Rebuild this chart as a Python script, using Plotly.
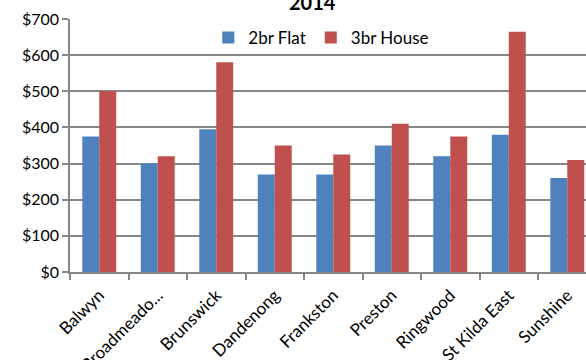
import plotly.graph_objects as go

suburbs = ["Balwyn", "Broadmeado...", "Brunswick", "Dandenong", "Frankston",
           "Preston", "Ringwood", "St Kilda East", "Sunshine"]
flat_2br = [375, 300, 395, 270, 270, 350, 320, 380, 260]
house_3br = [500, 320, 580, 350, 325, 410, 375, 665, 310]
y_ticks = [0, 100, 200, 300, 400, 500, 600, 700]
y_labels = ["$0", "$100", "$200", "$300", "$400", "$500", "$600", "$700"]

FONT = "Lato"
GRID = "#878787"

fig = go.Figure()
fig.add_trace(go.Bar(x=suburbs, y=flat_2br, name="2br Flat",
                     marker=dict(color="#4F81BD", line=dict(width=0))))
fig.add_trace(go.Bar(x=suburbs, y=house_3br, name="3br House",
                     marker=dict(color="#C0504D", line=dict(width=0))))

fig.update_layout(
    width=586, height=360,
    margin=dict(l=70, r=0, t=19, b=88),
    paper_bgcolor="white", plot_bgcolor="white",
    barmode="group", bargap=0.42, bargroupgap=0,
    font=dict(family=FONT, size=16, color="black"),
    showlegend=True,
    legend=dict(orientation="h", x=0.268, y=0.925, xanchor="left", yanchor="middle",
                font=dict(family=FONT, size=17, color="black"),
                bgcolor="rgba(0,0,0,0)", itemwidth=30, traceorder="normal"),
    annotations=[dict(text="<b>2014</b>", xref="paper", yref="paper",
                      x=(312 - 70) / 516, y=1, xanchor="center", yanchor="middle",
                      yshift=17, showarrow=False,
                      font=dict(family=FONT, size=20, color="black"))],
)
fig.update_xaxes(
    range=[-0.5, 8.32], showgrid=False, automargin=False,
    showline=True, linecolor=GRID, linewidth=1.5,
    ticks="outside", tickson="boundaries", ticklen=6, tickcolor=GRID, tickwidth=1.5,
    tickangle=-45, ticklabelstandoff=5,
    tickfont=dict(family=FONT, size=17, color="black"),
)
fig.update_yaxes(
    range=[0, 700], tickvals=y_ticks, ticktext=y_labels, automargin=False,
    showgrid=True, gridcolor=GRID, gridwidth=1.5,
    showline=True, linecolor=GRID, linewidth=1.5,
    ticks="outside", ticklen=6, tickcolor=GRID, tickwidth=1.5,
    tickfont=dict(family=FONT, size=16, color="black"),
    zeroline=False,
)
fig.write_html("out.html")
